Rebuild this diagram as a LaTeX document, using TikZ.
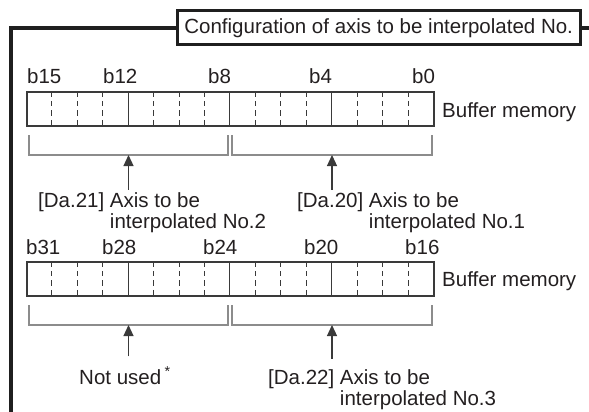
\documentclass[tikz,border=0pt]{standalone}
\usepackage{fontspec}
\setmainfont{Liberation Sans}
\usetikzlibrary{arrows.meta}
\definecolor{ink}{HTML}{231F20}
\definecolor{wire}{HTML}{3A3A3A}
\definecolor{brk}{HTML}{8C8C8C}
\pgfmathsetmacro{\cellw}{407/16}

\begin{document}
\begin{tikzpicture}[x=1pt,y=-1pt,
  font=\fontsize{20.5}{21}\selectfont,text=ink,
  frame/.style={line width=3.5pt,black!88},
  reg/.style={draw=wire,line width=1.2pt,minimum width=407pt,minimum height=34pt,inner sep=0pt},
  cell/.style={wire,line width=0.9pt},
  tick/.style={wire,line width=0.9pt,dash pattern=on 5.5pt off 4pt},
  bkt/.style={brk,line width=1.2pt},
  pointer/.style={wire,line width=1.2pt,-{Triangle[length=11pt,width=10pt]}},
  lbl/.style={inner sep=0pt,anchor=base west}]
      \useasboundingbox (0,0) rectangle (589,412);
      \node[draw=black!88,line width=3pt,minimum width=403pt,minimum height=34pt,inner sep=0pt]
      (title) at (378.7,28) {Configuration of axis to be interpolated No.};
      \coordinate (fb) at (11,416);
      \coordinate (fr) at (592,28);
      \draw[frame] (title.west) -| (fb);
      \draw[frame] (title.east) -- (fr);

      \node[reg] (lo) at (230.5,109) {};
      \node[reg] (hi) at (230.5,279) {};
      \foreach \r in {lo,hi} {
        \foreach \i in {4,8,12}
          \draw[cell] ([xshift=\i*\cellw]\r.north west) -- ([xshift=\i*\cellw]\r.south west);
        \foreach \i in {1,2,3,5,6,7,9,10,11,13,14,15}
          \draw[tick] ([xshift=\i*\cellw]\r.north west) -- ([xshift=\i*\cellw]\r.south west);
      }

      \node[lbl] (b15) at (27,84) {b15};
      \node[lbl] (b12) at (103,84) {b12};
      \node[lbl] (b8) at (208,84) {b8};
      \node[lbl] (b4) at (309,84) {b4};
      \node[lbl] (b0) at (412,84) {b0};
      \node[lbl] (b31) at (26,254) {b31};
      \node[lbl] (b28) at (102,254) {b28};
      \node[lbl] (b24) at (203,254) {b24};
      \node[lbl] (b20) at (304,254) {b20};
      \node[lbl] (b16) at (405,254) {b16};
      \node[lbl] (bmlo) at (442,117) {Buffer memory};
      \node[lbl] (bmhi) at (442,286) {Buffer memory};

      \draw[bkt] (29,135) |- (228,155) -- (228,135);
      \draw[bkt] (232,135) |- (432,155) -- (432,135);
      \draw[bkt] (29,305) |- (228,325) -- (228,305);
      \draw[bkt] (232,305) |- (432,325) -- (432,305);
      \coordinate (m21) at (128.5,155);
      \coordinate (m20) at (332,155);
      \coordinate (mnu) at (128.5,325);
      \coordinate (m22) at (332,325);

      \node[lbl] (da21) at (38,207) {[Da.21] \begin{tabular}[t]{@{}l@{}}Axis to be\\interpolated No.2\end{tabular}};
      \node[lbl] (da20) at (297,207) {[Da.20] \begin{tabular}[t]{@{}l@{}}Axis to be\\interpolated No.1\end{tabular}};
      \node[lbl] (nu) at (79,384) {Not used\,\textsuperscript{*}};
      \node[lbl] (da22) at (268,384) {[Da.22] \begin{tabular}[t]{@{}l@{}}Axis to be\\interpolated No.3\end{tabular}};

      \draw[pointer,shorten <=2pt] (m21 |- da21.north) -- (m21);
      \draw[pointer,shorten <=2pt] (m20 |- da20.north) -- (m20);
      \draw[pointer,shorten <=10pt] (mnu |- nu.north) -- (mnu);
      \draw[pointer,shorten <=10pt] (m22 |- da22.north) -- (m22);
    \end{tikzpicture}
\end{document}
